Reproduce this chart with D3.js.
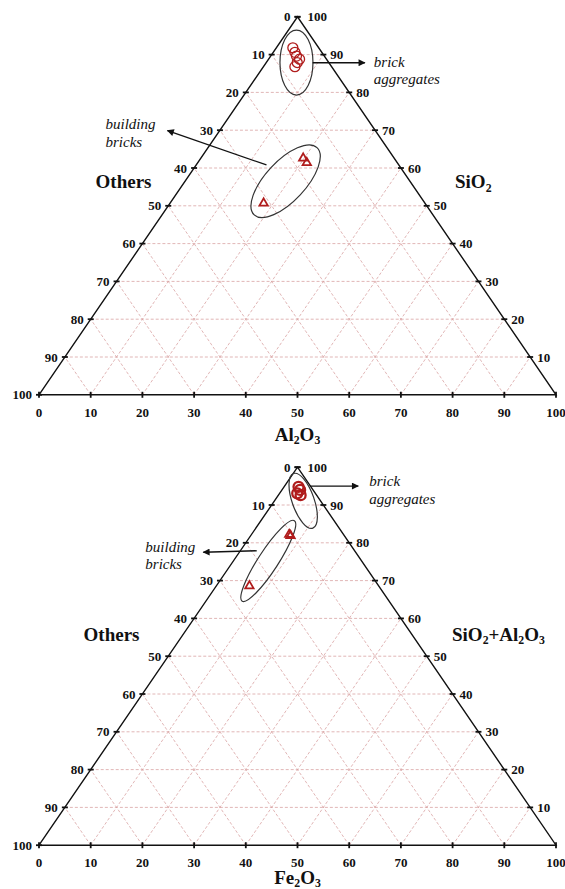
<!DOCTYPE html>
<html>
<head>
<meta charset="utf-8">
<script src="https://cdn.jsdelivr.net/npm/d3@7"></script>
<style>
  html, body { margin: 0; padding: 0; background: #fff; }
  svg { display: block; }
</style>
</head>
<body>
<svg id="chart" width="565" height="889"></svg>
<script>
// Tick values shared by the three sides of each ternary diagram
const tickValues = [0, 10, 20, 30, 40, 50, 60, 70, 80, 90, 100];
const gridValues = [10, 20, 30, 40, 50, 60, 70, 80, 90];

// Panel 1: SiO2 (apex) – Al2O3 (right) – Others (left), wt %
const aggSiO2  = [91.8, 90.6, 89.6, 88.8, 87.9, 86.8];
const aggAl2O3 = [3.2, 4.2, 5.0, 6.0, 6.0, 6.1];
const bldSiO2  = [62.6, 61.4, 50.7];
const bldAl2O3 = [19.8, 21.1, 18.1];

// Panel 2: SiO2+Al2O3 (apex) – Fe2O3 (right) – Others (left), wt %
const aggSiAl  = [94.8, 94.0, 92.6, 93.1];
const aggFe2O3 = [2.8, 3.5, 4.3, 3.4];
const bldSiAl  = [82.2, 81.9, 68.6];
const bldFe2O3 = [7.3, 7.7, 6.4];

const groupNames = [["brick", "aggregates"], ["building", "bricks"]];

// Annotation anchors in (apex %, right %) coordinates
const ellipseTop = [[87.9, 5.85], [56.5, 19.45]];
const ellipseBot = [[91.1, 5.55], [75.2, 6.75]];
const arrowTop = [[[87.85, 9.0], [87.85, 19.1]], [[60.8, 13.6], [69.9, -10.1]]];
const arrowBot = [[[95.0, 4.9], [95.0, 14.25]], [[77.9, 3.15], [77.5, -6.97]]];

const svg = d3.select("#chart");
const serif = "'Liberation Serif', 'Times New Roman', serif";
const red = "#b01c1c";

svg.append("defs").append("marker")
  .attr("id", "arrowhead")
  .attr("viewBox", "0 0 10 10")
  .attr("refX", 9).attr("refY", 5)
  .attr("markerWidth", 9).attr("markerHeight", 7)
  .attr("markerUnits", "userSpaceOnUse")
  .attr("orient", "auto")
  .append("path").attr("d", "M0,0 L10,5 L0,10 Z").attr("fill", "#111");

// Writes a chemical formula with lowered, smaller digits
function chemText(sel, parts, size) {
  let shift = 0;
  parts.forEach(([t, sub]) => {
    const ts = sel.append("tspan").text(t);
    if (sub) {
      ts.attr("font-size", size * 0.62).attr("dy", size * 0.18 - shift);
      shift = size * 0.18;
    } else {
      ts.attr("dy", -shift);
      shift = 0;
    }
  });
}

function drawPanel(cfg) {
  const g = svg.append("g");
  const sx = d3.scaleLinear().domain([0, 100]).range([39, 556]);
  const sy = d3.scaleLinear().domain([0, 100]).range([cfg.base, cfg.apex]);
  const pt = (s, a) => [sx(a + s / 2), sy(s)];

  // dashed grid
  const grid = g.append("g")
    .attr("stroke", "#d9a3a3").attr("stroke-width", 0.8)
    .attr("stroke-dasharray", "3,2").attr("fill", "none");
  gridValues.forEach(v => {
    // constant apex value
    grid.append("line").attr("x1", pt(v, 0)[0]).attr("y1", pt(v, 0)[1])
      .attr("x2", pt(v, 100 - v)[0]).attr("y2", pt(v, 100 - v)[1]);
    // constant right-corner value
    grid.append("line").attr("x1", pt(0, v)[0]).attr("y1", pt(0, v)[1])
      .attr("x2", pt(100 - v, v)[0]).attr("y2", pt(100 - v, v)[1]);
    // constant left-corner value
    grid.append("line").attr("x1", pt(0, 100 - v)[0]).attr("y1", pt(0, 100 - v)[1])
      .attr("x2", pt(100 - v, 0)[0]).attr("y2", pt(100 - v, 0)[1]);
  });

  // frame
  g.append("path")
    .attr("d", d3.line()([pt(0, 0), pt(100, 0), pt(0, 100)]) + "Z")
    .attr("fill", "none").attr("stroke", "#111").attr("stroke-width", 1.4);

  const tickG = g.append("g").attr("stroke", "#111").attr("stroke-width", 1.8);
  const labG = g.append("g").attr("font-family", serif).attr("font-weight", "bold")
    .attr("font-size", 13).attr("fill", "#111");

  // left side: Others
  tickValues.forEach(v => {
    const [x, y] = pt(100 - v, 0);
    tickG.append("line").attr("x1", x - 3).attr("x2", x + 3).attr("y1", y).attr("y2", y);
    labG.append("text").attr("x", x - 7).attr("y", y).attr("dy", "0.35em")
      .attr("text-anchor", "end").text(v);
  });
  // right side: apex component
  tickValues.filter(v => v > 0).forEach(v => {
    const [x, y] = pt(v, 100 - v);
    tickG.append("line").attr("x1", x - 3).attr("x2", x + 3).attr("y1", y).attr("y2", y);
    labG.append("text").attr("x", x + (v === 100 ? 10 : 7)).attr("y", y).attr("dy", "0.35em")
      .attr("text-anchor", "start").text(v);
  });
  // bottom: right-corner component
  tickValues.forEach(v => {
    const [x, y] = pt(0, v);
    tickG.append("line").attr("x1", x).attr("x2", x).attr("y1", y - 3).attr("y2", y + 3);
    labG.append("text").attr("x", x).attr("y", y + 22)
      .attr("text-anchor", "middle").text(v);
  });

  // axis titles
  const tg = g.append("g").attr("font-family", serif).attr("font-weight", "bold")
    .attr("font-size", 19).attr("fill", "#111");
  tg.append("text").attr("x", cfg.leftTitleX).attr("y", cfg.apex + cfg.sideTitleDy)
    .attr("text-anchor", "end").text("Others");
  chemText(tg.append("text").attr("x", cfg.rightTitleX).attr("y", cfg.apex + cfg.sideTitleDy)
    .attr("text-anchor", "start"), cfg.apexName, 19);
  chemText(tg.append("text").attr("x", sx(50)).attr("y", cfg.base + cfg.bottomTitleDy)
    .attr("text-anchor", "middle"), cfg.rightName, 19);

  // group ellipses
  const eg = g.append("g").attr("fill", "none").attr("stroke", "#333").attr("stroke-width", 1.2);
  cfg.ellipses.forEach((c, i) => {
    const [x, y] = pt(c[0], c[1]);
    const sh = cfg.ellipseShape[i];
    eg.append("ellipse").attr("cx", 0).attr("cy", 0).attr("rx", sh[0]).attr("ry", sh[1])
      .attr("transform", `translate(${x},${y}) rotate(${sh[2]})`);
  });

  // arrows and group names
  const ag = g.append("g");
  cfg.arrows.forEach((ar, i) => {
    const p0 = pt(ar[0][0], ar[0][1]);
    const p1 = pt(ar[1][0], ar[1][1]);
    ag.append("line").attr("x1", p0[0]).attr("y1", p0[1]).attr("x2", p1[0]).attr("y2", p1[1])
      .attr("stroke", "#111").attr("stroke-width", 1.3).attr("marker-end", "url(#arrowhead)");
    const off = cfg.noteOffset[i];
    const t = ag.append("text").attr("font-family", serif).attr("font-style", "italic")
      .attr("font-size", 15).attr("fill", "#111");
    groupNames[i].forEach((w, k) => {
      t.append("tspan").attr("x", p1[0] + off[0]).attr("y", p1[1] + off[1] + k * 17.5).text(w);
    });
  });

  // samples
  const mg = g.append("g");
  cfg.agg[0].forEach((s, i) => {
    const [x, y] = pt(s, cfg.agg[1][i]);
    mg.append("circle").attr("cx", x).attr("cy", y).attr("r", 5)
      .attr("fill", "none").attr("stroke", red).attr("stroke-width", cfg.circleStroke);
  });
  const tri = d3.symbol().type(d3.symbolTriangle).size(30);
  cfg.bld[0].forEach((s, i) => {
    const [x, y] = pt(s, cfg.bld[1][i]);
    mg.append("path").attr("d", tri()).attr("transform", `translate(${x},${y})`)
      .attr("fill", "none").attr("stroke", red).attr("stroke-width", 1.8);
  });
}

drawPanel({
  base: 394.8, apex: 16.8,
  apexName: [["SiO", false], ["2", true]],
  rightName: [["Al", false], ["2", true], ["O", false], ["3", true]],
  leftTitleX: 151.5, rightTitleX: 455, sideTitleDy: 171.5, bottomTitleDy: 46,
  agg: [aggSiO2, aggAl2O3], bld: [bldSiO2, bldAl2O3],
  ellipses: ellipseTop,
  ellipseShape: [[16.5, 32.5, 0], [46, 20, -47]],
  arrows: arrowTop,
  noteOffset: [[9, 4], [-62, -1.5]],
  circleStroke: 1.3
});

drawPanel({
  base: 845.2, apex: 467.2,
  apexName: [["SiO", false], ["2", true], ["+Al", false], ["2", true], ["O", false], ["3", true]],
  rightName: [["Fe", false], ["2", true], ["O", false], ["3", true]],
  leftTitleX: 139.5, rightTitleX: 452, sideTitleDy: 173.5, bottomTitleDy: 38.5,
  agg: [aggSiAl, aggFe2O3], bld: [bldSiAl, bldFe2O3],
  ellipses: ellipseBot,
  ellipseShape: [[29, 11, 70.5], [48, 10, -57]],
  arrows: arrowBot,
  noteOffset: [[11, 0], [-58, -0.5]],
  circleStroke: 2.3
});
</script>
</body>
</html>
